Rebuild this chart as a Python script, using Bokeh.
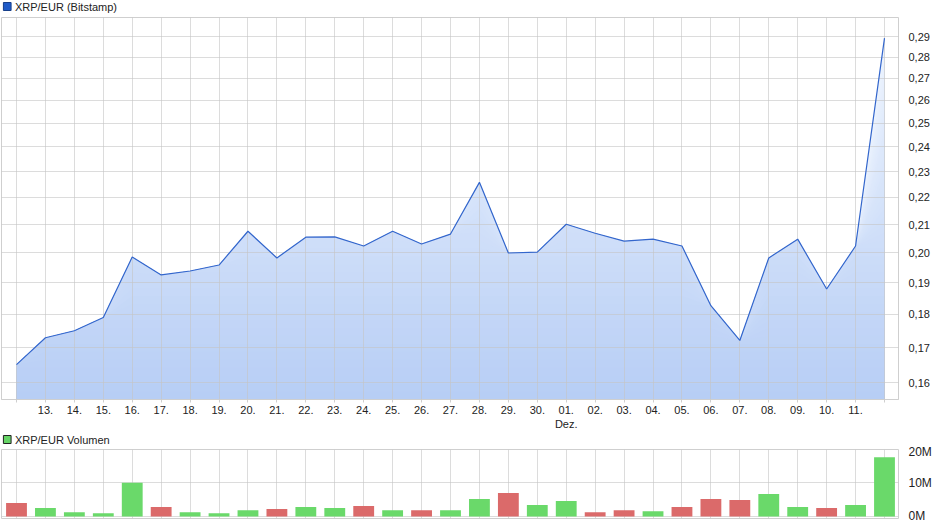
import math
from bokeh.plotting import figure
from bokeh.models import (FixedTicker, CustomJSTickFormatter, Range1d, ColumnDataSource)
from bokeh.core.properties import value
from bokeh.layouts import column
from bokeh.embed import file_html
from bokeh.resources import INLINE

# ---------------- data ----------------
day_labels = ["12.", "13.", "14.", "15.", "16.", "17.", "18.", "19.", "20.", "21.",
              "22.", "23.", "24.", "25.", "26.", "27.", "28.", "29.", "30.", "01.\nDez.",
              "02.", "03.", "04.", "05.", "06.", "07.", "08.", "09.", "10.", "11.", "12."]
price = [0.1651, 0.1729, 0.1750, 0.1790, 0.1986, 0.1926, 0.1939, 0.1959, 0.2076, 0.1983,
         0.2055, 0.2056, 0.2024, 0.2076, 0.2031, 0.2066, 0.2258, 0.2000, 0.2003, 0.2101,
         0.2069, 0.2041, 0.2048, 0.2024, 0.1827, 0.1721, 0.1983, 0.2048, 0.1880, 0.2024,
         0.2893]
volume_m = [4.0, 2.5, 1.3, 1.0, 10.1, 2.8, 1.3, 1.0, 1.9, 2.2,
            2.8, 2.5, 3.1, 1.9, 1.9, 1.9, 5.2, 7.0, 3.4, 4.6,
            1.3, 1.9, 1.6, 2.8, 5.2, 4.9, 6.7, 2.8, 2.5, 3.4,
            17.7]
vol_up = [0, 1, 1, 1, 1, 0, 1, 1, 1, 0, 1, 1, 0, 1, 0, 1, 1, 0, 1, 1,
          0, 0, 1, 0, 0, 0, 1, 1, 0, 1, 1]
price_ticks = [0.16, 0.17, 0.18, 0.19, 0.20, 0.21, 0.22, 0.23, 0.24, 0.25, 0.26, 0.27, 0.28, 0.29]
vol_ticks = [0, 10, 20]
price_legend = "XRP/EUR (Bitstamp)"
volume_legend = "XRP/EUR Volumen"

# ---------------- styling ----------------
FONT = "Liberation Sans"
GRID = "#c4c4c4"
BORDER = "#cfcfcf"
LINE = "#3366cc"
TOP_RGB = (239, 245, 254)
BOT_RGB = (182, 205, 245)
GREEN = "#6ad96a"
RED = "#db6a6a"

n = len(price)
xs = list(range(n))
x_lo, x_hi = -0.5185, 30.484
y_lo, y_hi = 0.1555, 0.2997

W = 935
LB, RB = 1, 37
H1, TOP1, BOT1 = 416, 1, 31
H2, TOP2, BOT2 = 81, 5, 7


def legend_row(label, fill, line, h, sq_cy):
    lf = figure(width=W, height=h, output_backend="svg", toolbar_location=None,
                x_axis_location=None, y_axis_location=None,
                x_range=Range1d(0, W), y_range=Range1d(h, 0),
                min_border_left=0, min_border_right=0, min_border_top=0,
                min_border_bottom=0)
    lf.outline_line_color = None
    lf.grid.visible = False
    lf.background_fill_color = "white"
    lf.border_fill_color = "white"
    lf.rect(x=[6], y=[sq_cy], width=8, height=8, fill_color=fill, line_color=line,
            line_width=1)
    lf.text(x=[14], y=[sq_cy], text=[label], text_font=value(FONT),
            text_font_size="11px", text_baseline="middle", text_align="left",
            text_color="#222222")
    return lf


leg1 = legend_row(price_legend, "#1f5bc8", "#173f8a", 16, 6)

# ---------------- main chart ----------------
p1 = figure(width=W, height=H1, output_backend="svg", toolbar_location=None,
            y_axis_type="log", y_axis_location="right",
            x_range=Range1d(x_lo, x_hi), y_range=Range1d(y_lo, y_hi),
            min_border_left=LB, min_border_right=RB, min_border_top=TOP1,
            min_border_bottom=BOT1)
p1.outline_line_color = BORDER
p1.background_fill_color = "white"
p1.border_fill_color = "white"

# vertical gradient fill under the line, as stacked bands
N = 48
l0, l1 = math.log(y_lo), math.log(y_hi)
for i in range(N, 0, -1):
    f = i / N
    lev = math.exp(l0 + (l1 - l0) * f)
    r = round(BOT_RGB[0] + (TOP_RGB[0] - BOT_RGB[0]) * f)
    g = round(BOT_RGB[1] + (TOP_RGB[1] - BOT_RGB[1]) * f)
    b = round(BOT_RGB[2] + (TOP_RGB[2] - BOT_RGB[2]) * f)
    p1.varea(x=xs, y1=[y_lo] * n, y2=[min(v, lev) for v in price],
             fill_color="#%02x%02x%02x" % (r, g, b))

ln = p1.line(xs, price, line_color=LINE, line_width=1.2)
ln.level = "overlay"

p1.xaxis.ticker = FixedTicker(ticks=xs)
p1.xaxis.major_label_overrides = {i: (day_labels[i] if 0 < i < n - 1 else "") for i in xs}
p1.xaxis.axis_line_color = BORDER
p1.xaxis.major_tick_line_color = BORDER
p1.xaxis.major_tick_out = 3
p1.xaxis.major_tick_in = 0
p1.xaxis.minor_tick_line_color = None
p1.xaxis.major_label_standoff = 1
p1.xaxis.major_label_text_font = FONT
p1.xaxis.major_label_text_font_size = "11px"
p1.xaxis.major_label_text_color = "#222222"

p1.yaxis.ticker = FixedTicker(ticks=price_ticks)
p1.yaxis.formatter = CustomJSTickFormatter(code="return tick.toFixed(2).replace('.', ',');")
p1.yaxis.axis_line_color = None
p1.yaxis.major_tick_line_color = None
p1.yaxis.minor_tick_line_color = None
p1.yaxis.major_label_standoff = 4
p1.yaxis.major_label_text_font = FONT
p1.yaxis.major_label_text_font_size = "11px"
p1.yaxis.major_label_text_color = "#222222"

for gr in (p1.xgrid, p1.ygrid):
    gr.grid_line_color = GRID
    gr.grid_line_alpha = 0.6
    gr.level = "annotation"

leg2 = legend_row(volume_legend, "#66d466", "#222222", 12, 7)

# ---------------- volume chart ----------------
p2 = figure(width=W, height=H2, output_backend="svg", toolbar_location=None,
            x_axis_location=None, y_axis_location="right",
            x_range=p1.x_range, y_range=Range1d(-0.6, 20.0),
            min_border_left=LB, min_border_right=RB, min_border_top=TOP2,
            min_border_bottom=BOT2)
p2.outline_line_color = BORDER
p2.background_fill_color = "white"
p2.border_fill_color = "white"

vsrc = ColumnDataSource(dict(x=xs, top=volume_m,
                             color=[GREEN if u else RED for u in vol_up]))
p2.vbar(x="x", top="top", bottom=0, width=0.72, source=vsrc,
        fill_color="color", line_color=None)

p2.xgrid.ticker = FixedTicker(ticks=xs)
p2.yaxis.ticker = FixedTicker(ticks=vol_ticks)
p2.yaxis.formatter = CustomJSTickFormatter(code="return tick.toFixed(0) + 'M';")
p2.yaxis.axis_line_color = None
p2.yaxis.major_tick_line_color = None
p2.yaxis.minor_tick_line_color = None
p2.yaxis.major_label_standoff = 4
p2.yaxis.major_label_text_font = FONT
p2.yaxis.major_label_text_font_size = "12px"
p2.yaxis.major_label_text_color = "#222222"
for gr in (p2.xgrid, p2.ygrid):
    gr.grid_line_color = GRID
    gr.grid_line_alpha = 0.6

layout = column(leg1, p1, leg2, p2, spacing=0)
open("out.html", "w").write(file_html(layout, INLINE))
